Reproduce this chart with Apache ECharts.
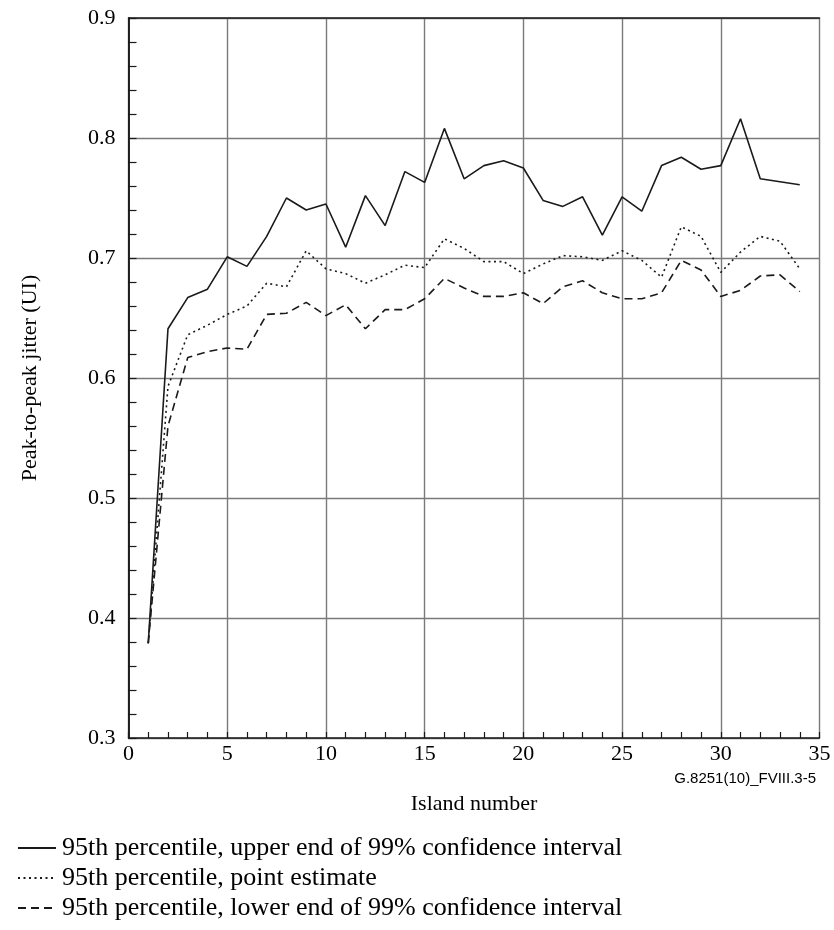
<!DOCTYPE html>
<html>
<head>
<meta charset="utf-8">
<script src="https://cdn.jsdelivr.net/npm/echarts@6/dist/echarts.min.js"></script>
<style>
  html, body { margin: 0; padding: 0; background: #fff; }
  #chart { width: 834px; height: 930px; }
</style>
</head>
<body>
<div id="chart"></div>
<script>
const islands = [1, 2, 3, 4, 5, 6, 7, 8, 9, 10, 11, 12, 13, 14, 15, 16, 17, 18, 19, 20,
    21, 22, 23, 24, 25, 26, 27, 28, 29, 30, 31, 32, 33, 34];
const upperEnd = [0.379, 0.641, 0.667, 0.674, 0.701, 0.693, 0.718, 0.750, 0.740, 0.745,
    0.709, 0.752, 0.727, 0.772, 0.763, 0.808, 0.766, 0.777, 0.781, 0.775,
    0.748, 0.743, 0.751, 0.719, 0.751, 0.739, 0.777, 0.784, 0.774, 0.777,
    0.816, 0.766, 0.7635, 0.761];
const pointEstimate = [0.379, 0.593, 0.636, 0.644, 0.653, 0.660, 0.679, 0.676, 0.706, 0.691,
    0.687, 0.679, 0.686, 0.694, 0.692, 0.716, 0.708, 0.697, 0.697, 0.687,
    0.695, 0.702, 0.701, 0.698, 0.706, 0.698, 0.684, 0.726, 0.718, 0.688,
    0.705, 0.718, 0.714, 0.691];
const lowerEnd = [0.379, 0.560, 0.617, 0.622, 0.625, 0.624, 0.653, 0.654, 0.663, 0.652,
    0.661, 0.641, 0.657, 0.657, 0.666, 0.683, 0.675, 0.668, 0.668, 0.671,
    0.662, 0.676, 0.681, 0.671, 0.666, 0.666, 0.671, 0.698, 0.690, 0.668,
    0.673, 0.685, 0.686, 0.672];
const seriesNames = [
    '95th percentile, upper end of 99% confidence interval',
    '95th percentile, point estimate',
    '95th percentile, lower end of 99% confidence interval'
];

const serif = 'Liberation Serif';
const ink = '#1a1a1a';

function pairs(values) {
    return islands.map((n, i) => [n, values[i]]);
}

function lineSeries(name, values, dash) {
    return {
        name: name,
        type: 'line',
        data: pairs(values),
        symbol: 'none',
        silent: true,
        lineStyle: { color: ink, width: 1.6, type: dash },
        itemStyle: { color: ink }
    };
}

const myChart = echarts.init(document.getElementById('chart'), null, { renderer: 'canvas' });
const option = {
    animation: false,
    backgroundColor: '#fff',
    textStyle: { fontFamily: serif, color: '#000' },
    grid: { left: 128.5, right: 14.5, top: 18, bottom: 192 },
    xAxis: [{
        type: 'value',
        min: 0, max: 35, interval: 5,
        name: 'Island number',
        nameLocation: 'middle',
        nameGap: 55,
        nameTextStyle: { fontFamily: serif, fontSize: 22, color: '#000' },
        axisLine: { lineStyle: { color: ink, width: 1.5 } },
        axisTick: { show: true, inside: true, length: 6, lineStyle: { color: ink, width: 1.2 } },
        minorTick: { show: true, splitNumber: 5, length: 6, lineStyle: { color: ink, width: 1.2 } },
        axisLabel: { fontFamily: serif, fontSize: 22, color: '#000', margin: 5 },
        splitLine: { show: true, lineStyle: { color: '#7a7a7a', width: 1.4 } }
    }, {
        type: 'value', position: 'top',
        min: 0, max: 35, interval: 5,
        axisLine: { show: true, lineStyle: { color: ink, width: 1.5 } },
        axisTick: { show: false }, axisLabel: { show: false }, splitLine: { show: false }
    }],
    yAxis: [{
        type: 'value',
        min: 0.3, max: 0.9, interval: 0.1,
        name: 'Peak-to-peak jitter (UI)',
        nameLocation: 'middle',
        nameGap: 87,
        nameTextStyle: { fontFamily: serif, fontSize: 22, color: '#000' },
        axisLine: { show: true, lineStyle: { color: ink, width: 1.5 } },
        axisTick: { show: true, inside: true, length: 8, lineStyle: { color: ink, width: 1.2 } },
        minorTick: { show: true, splitNumber: 5, length: 8, lineStyle: { color: ink, width: 1.2 } },
        axisLabel: {
            fontFamily: serif, fontSize: 22, color: '#000', margin: 13,
            formatter: v => v.toFixed(1)
        },
        splitLine: { show: true, lineStyle: { color: '#7a7a7a', width: 1.4 } }
    }, {
        type: 'value', position: 'right',
        min: 0.3, max: 0.9, interval: 0.1,
        axisLine: { show: true, lineStyle: { color: ink, width: 1.5 } },
        axisTick: { show: false }, axisLabel: { show: false }, splitLine: { show: false }
    }],
    legend: {
        orient: 'vertical',
        left: 12, top: 830, height: 140,
        itemWidth: 38, itemHeight: 12, itemGap: 4,
        selectedMode: false,
        data: seriesNames,
        itemStyle: { opacity: 0 },
        textStyle: { fontFamily: serif, fontSize: 26, color: '#000', padding: [0, 0, 0, 1] }
    },
    graphic: [{
        type: 'text',
        right: 18, top: 771,
        style: {
            text: 'G.8251(10)_FVIII.3-5',
            font: '15px "Liberation Sans"',
            fill: '#000'
        }
    }],
    series: [
        lineSeries(seriesNames[0], upperEnd, 'solid'),
        lineSeries(seriesNames[1], pointEstimate, [2, 3.5]),
        lineSeries(seriesNames[2], lowerEnd, [8, 5])
    ]
};
myChart.setOption(option);
</script>
</body>
</html>
